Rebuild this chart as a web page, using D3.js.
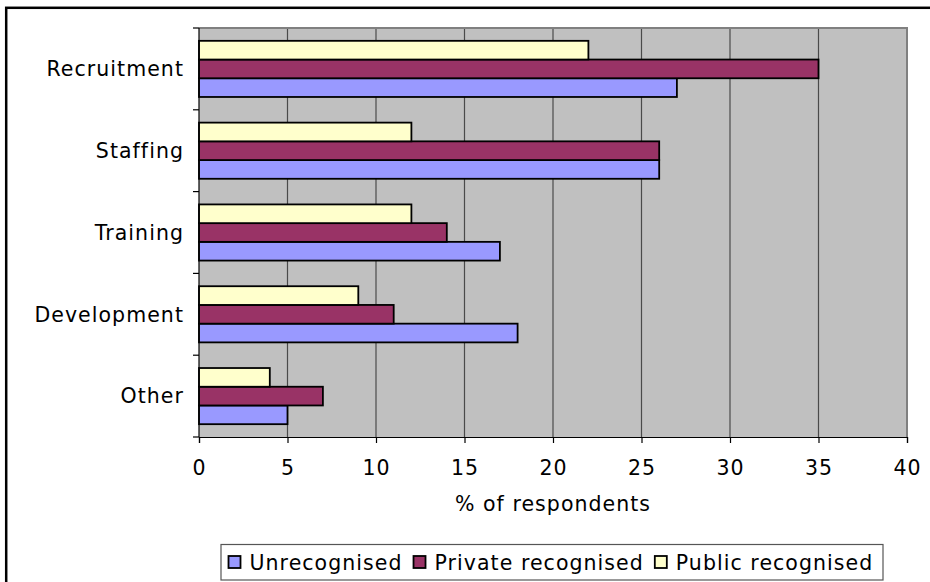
<!DOCTYPE html>
<html>
<head>
<meta charset="utf-8">
<script src="https://cdn.jsdelivr.net/npm/d3@7"></script>
<style>
  html, body { margin: 0; padding: 0; background: #fff; }
  svg { display: block; }
  text { font-family: "DejaVu Sans", Verdana, sans-serif; font-size: 20.5px; fill: #000; letter-spacing: 1.05px; }
</style>
</head>
<body>
<svg id="chart" width="930" height="582"></svg>
<script>
// Survey responses by area, % of respondents
const categories = ["Recruitment", "Staffing", "Training", "Development", "Other"];
const seriesNames = ["Unrecognised", "Private recognised", "Public recognised"];
const unrecognised = [27, 26, 17, 18, 5];
const privateRecognised = [35, 26, 14, 11, 7];
const publicRecognised = [22, 12, 12, 9, 4];
const xTicks = [0, 5, 10, 15, 20, 25, 30, 35, 40];
const xTitle = "% of respondents";

const seriesValues = [unrecognised, privateRecognised, publicRecognised];
const colors = ["#9999FF", "#993366", "#FFFFCC"];

const svg = d3.select("#chart");

// outer chart frame (runs off the right and bottom edges)
svg.append("rect")
  .attr("x", 6.2).attr("y", 7.8)
  .attr("width", 960).attr("height", 620)
  .attr("fill", "#fff").attr("stroke", "#000").attr("stroke-width", 2.5);

const plot = { left: 199, right: 907, top: 28, bottom: 437 };

const x = d3.scaleLinear().domain([0, 40]).range([plot.left, plot.right]);
const y = d3.scaleBand().domain(categories).range([plot.top, plot.bottom]).padding(0);
// within each category, Public sits on top and Unrecognised at the bottom
const yInner = d3.scaleBand()
  .domain(seriesNames.slice().reverse())
  .range([0, y.bandwidth()])
  .paddingInner(0).paddingOuter(0.685);

// plot background
svg.append("rect")
  .attr("x", plot.left).attr("y", plot.top)
  .attr("width", plot.right - plot.left).attr("height", plot.bottom - plot.top)
  .attr("fill", "#C0C0C0");

// vertical gridlines
svg.append("g")
  .selectAll("line")
  .data(xTicks.filter(d => d > 0 && d < 40))
  .join("line")
  .attr("x1", d => x(d)).attr("x2", d => x(d))
  .attr("y1", plot.top).attr("y2", plot.bottom)
  .attr("stroke", "#4a4a4a").attr("stroke-width", 1.2);

// plot area border (top and right)
svg.append("path")
  .attr("d", `M${plot.left},${plot.top}H${plot.right}V${plot.bottom}`)
  .attr("fill", "none").attr("stroke", "#808080").attr("stroke-width", 2);

// bars
const rows = [];
categories.forEach((c, i) => {
  seriesNames.forEach((s, j) => rows.push({ cat: c, series: s, value: seriesValues[j][i], color: colors[j] }));
});
svg.append("g")
  .selectAll("rect")
  .data(rows)
  .join("rect")
  .attr("x", x(0))
  .attr("y", d => y(d.cat) + yInner(d.series))
  .attr("width", d => x(d.value) - x(0))
  .attr("height", yInner.bandwidth())
  .attr("fill", d => d.color)
  .attr("stroke", "#000").attr("stroke-width", 1.8);

// x axis
const xAxis = svg.append("g")
  .attr("transform", `translate(0,${plot.bottom})`)
  .call(d3.axisBottom(x).tickValues(xTicks).tickSize(6).tickPadding(0).tickFormat(d3.format("d")));
xAxis.attr("font-family", null).attr("font-size", null);
xAxis.select(".domain").attr("stroke", "#000").attr("stroke-width", 1.2);
xAxis.selectAll(".tick line").attr("stroke", "#000").attr("stroke-width", 1.2);
xAxis.selectAll(".tick text")
  .attr("y", 38).attr("dy", null)
  .attr("fill", "#000");

// y axis: ticks on category boundaries, labels at band centres
const yAxisG = svg.append("g");
yAxisG.append("line")
  .attr("x1", plot.left).attr("x2", plot.left)
  .attr("y1", plot.top).attr("y2", plot.bottom)
  .attr("stroke", "#000").attr("stroke-width", 1.2);
const boundaries = categories.map(c => y(c)).concat([plot.bottom]);
yAxisG.selectAll("line.tk")
  .data(boundaries)
  .join("line").attr("class", "tk")
  .attr("x1", plot.left - 6).attr("x2", plot.left)
  .attr("y1", d => d).attr("y2", d => d)
  .attr("stroke", "#000").attr("stroke-width", 1.2);
yAxisG.selectAll("text")
  .data(categories)
  .join("text")
  .attr("x", 184)
  .attr("y", d => y(d) + y.bandwidth() / 2)
  .attr("dy", "0.36em")
  .attr("text-anchor", "end")
  .text(d => d);

// axis title
svg.append("text")
  .attr("x", (plot.left + plot.right) / 2)
  .attr("y", 511)
  .attr("text-anchor", "middle")
  .text(xTitle);

// legend
const legend = svg.append("g");
legend.append("rect")
  .attr("x", 221).attr("y", 544.5).attr("width", 662).attr("height", 35.5)
  .attr("fill", "#fff").attr("stroke", "#555").attr("stroke-width", 1.2);
let lx = 228.5;
seriesNames.forEach((s, j) => {
  legend.append("rect")
    .attr("x", lx).attr("y", 556)
    .attr("width", 12).attr("height", 12)
    .attr("fill", colors[j]).attr("stroke", "#000").attr("stroke-width", 1.8);
  const t = legend.append("text")
    .attr("x", lx + 21).attr("y", 570)
    .text(s);
  lx = lx + 21 + t.node().getComputedTextLength() + 11;
});
</script>
</body>
</html>
